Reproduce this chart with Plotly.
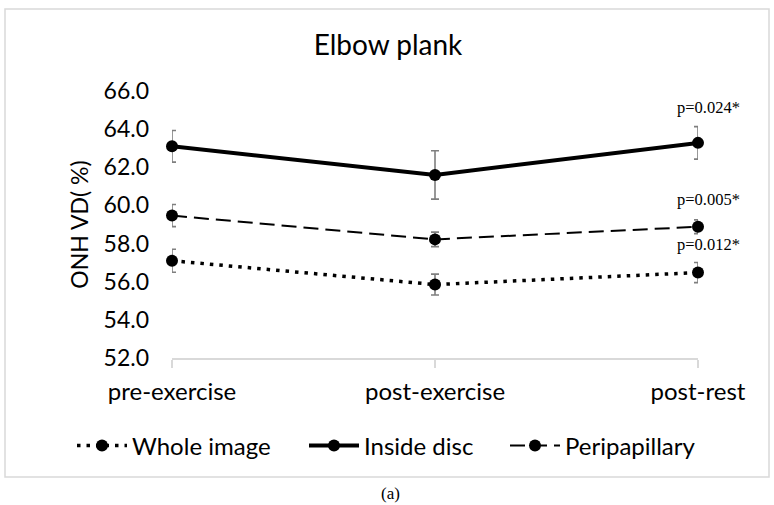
import plotly.graph_objects as go

categories = ["pre-exercise", "post-exercise", "post-rest"]
whole_image = [57.1, 55.85, 56.48]
whole_image_err = [0.6, 0.55, 0.53]
inside_disc = [63.1, 61.6, 63.28]
inside_disc_err = [0.83, 1.27, 0.85]
peripapillary = [59.47, 58.22, 58.88]
peripapillary_err = [0.58, 0.38, 0.36]
p_labels = ["p=0.012*", "p=0.024*", "p=0.005*"]
y_ticks = [52, 54, 56, 58, 60, 62, 64, 66]

SANS = "Lato, 'Liberation Sans', sans-serif"
SERIF = "'Liberation Serif', 'DejaVu Serif', serif"

W, H = 774, 505
L, R, T, B = 172, 76, 91, 147
PW, PH = W - L - R, H - T - B
BOTTOM = H - B  # pixel row of the x axis

series = [
    ("Whole image", whole_image, whole_image_err, dict(color="black", width=3.5, dash="3.5px,6px")),
    ("Inside disc", inside_disc, inside_disc_err, dict(color="black", width=4)),
    ("Peripapillary", peripapillary, peripapillary_err, dict(color="black", width=2, dash="15px,7px")),
]
legend_ids = ["legend", "legend2", "legend3"]
legend_left_px = [72, 304, 505]

fig = go.Figure()

for name, vals, errs, line in series:
    fig.add_trace(go.Scatter(
        x=categories, y=vals, mode="markers",
        marker=dict(size=1, opacity=0),
        error_y=dict(type="data", array=errs, visible=True, color="#7f7f7f", thickness=1.6, width=4),
        showlegend=False, hoverinfo="skip", cliponaxis=True,
    ))

for (name, vals, errs, line), lid in zip(series, legend_ids):
    fig.add_trace(go.Scatter(
        x=categories, y=vals, mode="lines+markers", name=name,
        line=line, marker=dict(size=12, color="black", symbol="circle"),
        cliponaxis=False, legend=lid,
    ))

shifts = [6, 8, 9]
for (name, vals, errs, line), lab, ys in zip(series, p_labels, shifts):
    fig.add_annotation(
        x=categories[-1], y=vals[-1] + errs[-1], text=lab, showarrow=False,
        xanchor="center", yanchor="bottom", xshift=10, yshift=ys,
        font=dict(family=SERIF, size=16.5, color="black"),
    )

fig.add_annotation(
    x=(390 - L) / PW, y=(BOTTOM - 493) / PH, xref="paper", yref="paper",
    text="(a)", showarrow=False, xanchor="center", yanchor="middle",
    font=dict(family=SERIF, size=17, color="black"),
)

fig.add_shape(
    type="rect", xref="paper", yref="paper",
    x0=(5 - L) / PW, x1=(769 - L) / PW,
    y0=(BOTTOM - 477) / PH, y1=(BOTTOM - 9) / PH,
    line=dict(color="#d9d9d9", width=1.5), fillcolor="rgba(0,0,0,0)", layer="below",
)

legend_common = dict(orientation="h", xanchor="left", yanchor="middle",
                     y=(BOTTOM - 446) / PH, itemwidth=50,
                     font=dict(family=SANS, size=24, color="black"),
                     bgcolor="rgba(0,0,0,0)")
legends = {lid: dict(legend_common, x=(px - L) / PW) for lid, px in zip(legend_ids, legend_left_px)}

fig.update_layout(
    width=W, height=H,
    margin=dict(l=L, r=R, t=T, b=B, autoexpand=False),
    paper_bgcolor="white", plot_bgcolor="white",
    font=dict(family=SANS, color="black", size=23),
    title=dict(text="Elbow plank", x=(388 - L) / PW, xref="paper", xanchor="center",
               y=1 - 45 / H, yref="container", yanchor="middle",
               font=dict(family=SANS, size=28, color="black")),
    showlegend=True,
    xaxis=dict(type="category", range=[0, 2], showgrid=False, zeroline=False,
               showline=True, linecolor="#d9d9d9", linewidth=1.5,
               ticks="outside", ticklen=8, tickcolor="#d9d9d9", tickwidth=1.5,
               tickfont=dict(family=SANS, size=24, color="black"),
               ticklabelstandoff=3, automargin=False),
    yaxis=dict(range=[52, 66], tickvals=y_ticks, tickformat=".1f",
               showgrid=False, zeroline=False, showline=False, ticks="",
               tickfont=dict(family=SANS, size=23, color="black"),
               ticklabelstandoff=22, automargin=False,
               title=dict(text="ONH VD( %)", standoff=8,
                          font=dict(family=SANS, size=23, color="black"))),
    **legends,
)

fig.write_html("out.html")
